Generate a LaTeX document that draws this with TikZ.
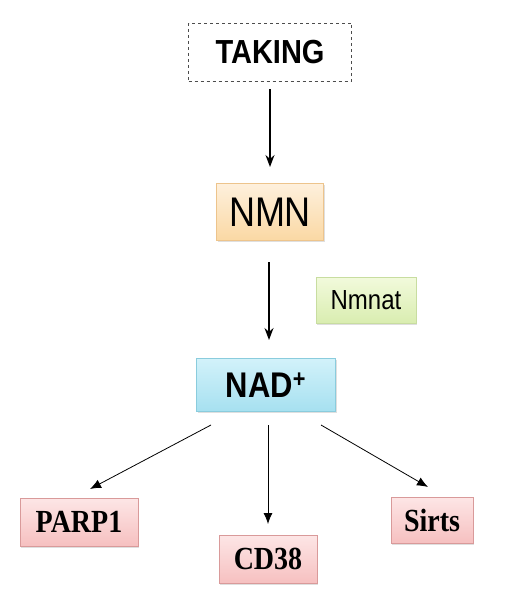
\documentclass[tikz,border=0pt]{standalone}
\usepackage{fontspec}
\setmainfont{Liberation Sans}
\newfontfamily\timesf{Liberation Serif}
\usetikzlibrary{arrows.meta,shadows}
\definecolor{orTop}{HTML}{FEF0DC}
\definecolor{orBot}{HTML}{FAD8A4}
\definecolor{orLine}{HTML}{EDC48C}
\definecolor{grTop}{HTML}{F2FADC}
\definecolor{grBot}{HTML}{D9EDB0}
\definecolor{grLine}{HTML}{C8DDA0}
\definecolor{blTop}{HTML}{D2F2FA}
\definecolor{blBot}{HTML}{A6E0F0}
\definecolor{blLine}{HTML}{8ACCDD}
\definecolor{pkTop}{HTML}{FDE6E6}
\definecolor{pkBot}{HTML}{F6C0C0}
\definecolor{pkLine}{HTML}{D99A9A}
\newcommand{\tallt}[1]{\scalebox{1}[1.15]{#1}}
\tikzset{
  box/.style={rectangle, inner sep=0pt, line width=0.8pt,
    drop shadow={opacity=0.25, shadow xshift=1pt, shadow yshift=-1.5pt}},
  orbox/.style={box, draw=orLine, top color=orTop, bottom color=orBot},
  grbox/.style={box, draw=grLine, top color=grTop, bottom color=grBot},
  blbox/.style={box, draw=blLine, top color=blTop, bottom color=blBot},
  pkbox/.style={box, draw=pkLine, top color=pkTop, bottom color=pkBot,
    font=\timesf\bfseries\fontsize{28}{30}\selectfont},
  bigarrow/.style={-{Stealth[length=12pt,width=9pt]}, line width=1.5pt},
  smallarrow/.style={-{Latex[length=11pt,width=9pt]}, line width=0.8pt},
}
\begin{document}
\begin{tikzpicture}[x=1pt,y=-1pt]
\useasboundingbox[fill=white] (0,0) rectangle (508,602);
\node[rectangle, draw=black!70, dashed, line width=0.6pt, minimum width=163pt, minimum height=58pt,
  font=\bfseries\fontsize{29}{30}\selectfont] (taking) at (270,52) {\tallt{TAKING}};
\node[orbox, minimum width=107pt, minimum height=57pt, font=\fontsize{36}{38}\selectfont] (nmn) at (270,212) {\tallt{NMN}};
\node[grbox, minimum width=100pt, minimum height=46pt, font=\fontsize{24}{26}\selectfont] (nmnat) at (366,300) {\tallt{Nmnat}};
\node[blbox, minimum width=139pt, minimum height=53pt, font=\bfseries\fontsize{31}{33}\selectfont] (nad) at (266,385) {\tallt{NAD\textsuperscript{+}}};
\node[pkbox, minimum width=118pt, minimum height=48pt] (parp) at (79,522) {\tallt{PARP1}};
\node[pkbox, minimum width=98pt, minimum height=48pt] (cd) at (268,559) {\tallt{CD38}};
\node[pkbox, minimum width=82pt, minimum height=46pt] (sirts) at (432,520) {\tallt{Sirts}};
\coordinate (t1) at (270,89);
\coordinate (t2) at (270,167);
\coordinate (n1) at (269,262);
\coordinate (n2) at (269,340);
\coordinate (a1) at (211,425);
\coordinate (a2) at (90,489);
\coordinate (b1) at (268,425);
\coordinate (b2) at (268,524);
\coordinate (c1) at (321,425);
\coordinate (c2) at (428,487);
\draw[bigarrow] (t1) -- (t2);
\draw[bigarrow] (n1) -- (n2);
\draw[smallarrow] (a1) -- (a2);
\draw[smallarrow] (b1) -- (b2);
\draw[smallarrow] (c1) -- (c2);
\end{tikzpicture}
\end{document}
